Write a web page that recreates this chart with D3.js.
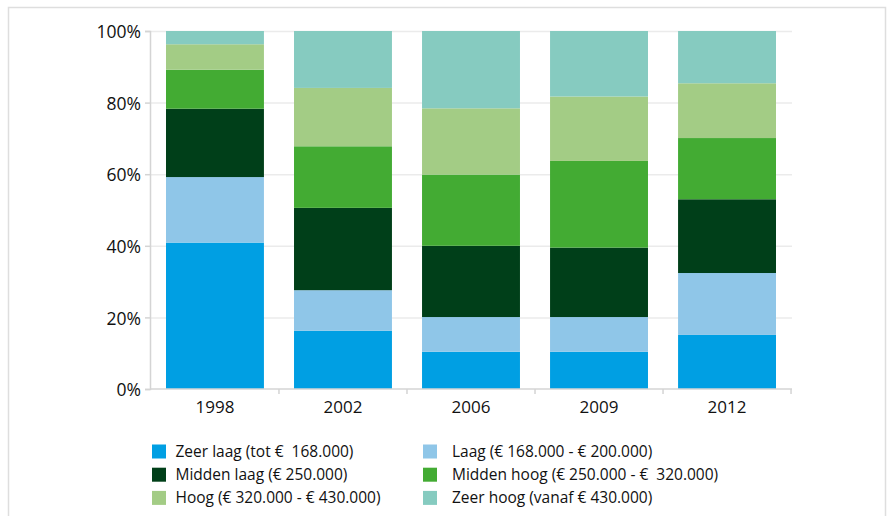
<!DOCTYPE html>
<html>
<head>
<meta charset="utf-8">
<script src="https://cdn.jsdelivr.net/npm/d3@7"></script>
<style>
  body { margin: 0; background: #fff; }
  svg text { font-family: "Open Sans", Lato, sans-serif; fill: #111; white-space: pre; }
</style>
</head>
<body>
<div id="chart"></div>
<script>
const years = ["1998", "2002", "2006", "2009", "2012"];
const seriesNames = [
    "Zeer laag (tot €  168.000)",
    "Laag (€ 168.000 - € 200.000)",
    "Midden laag (€ 250.000)",
    "Midden hoog (€ 250.000 - €  320.000)",
    "Hoog (€ 320.000 - € 430.000)",
    "Zeer hoog (vanaf € 430.000)"
];
const zeerLaag   = [40.9, 16.3, 10.4, 10.4, 15.1];
const laag       = [18.3, 11.3,  9.7,  9.7, 17.3];
const middenLaag = [19.1, 23.0, 19.9, 19.4, 20.6];
const middenHoog = [10.9, 17.2, 19.9, 24.2, 17.1];
const hoog       = [ 7.1, 16.3, 18.5, 18.0, 15.3];
const zeerHoog   = [ 3.7, 15.9, 21.6, 18.3, 14.6];
const yTicks = [0, 20, 40, 60, 80, 100];
const colors = ["#009fe3", "#8fc6e8", "#003f19", "#43ab33", "#a3cc85", "#86cbc0"];

const width = 888, height = 516;
const margin = {top: 31, right: 96, bottom: 127, left: 150};

const svg = d3.select("#chart").append("svg")
    .attr("width", width)
    .attr("height", height);

// outer frame
svg.append("path")
    .attr("d", `M8.5,${height} V7.5 H885.5 V${height}`)
    .attr("fill", "none")
    .attr("stroke", "#dedede")
    .attr("stroke-width", 1.5);

const allSeries = [zeerLaag, laag, middenLaag, middenHoog, hoog, zeerHoog];
const keys = seriesNames.map((n, i) => "s" + i);
const table = years.map((y, j) => {
    const row = {year: y};
    allSeries.forEach((s, i) => { row[keys[i]] = s[j]; });
    return row;
});
const stacked = d3.stack().keys(keys)
    .offset(d3.stackOffsetExpand)(table);

const x = d3.scaleBand()
    .domain(years)
    .range([margin.left, width - margin.right])
    .paddingInner(0.235)
    .paddingOuter(0.125);

const y = d3.scaleLinear()
    .domain([0, 1])
    .range([height - margin.bottom, margin.top]);

// gridlines
svg.append("g")
    .selectAll("line")
    .data(yTicks.slice(1))
    .enter().append("line")
    .attr("x1", margin.left)
    .attr("x2", width - margin.right)
    .attr("y1", d => y(d / 100) + 0.5)
    .attr("y2", d => y(d / 100) + 0.5)
    .attr("stroke", "#ebebeb")
    .attr("stroke-width", 1.5);

svg.append("g")
    .selectAll("g")
    .data(stacked)
    .enter().append("g")
    .attr("fill", (d, i) => colors[i])
    .selectAll("rect")
    .data(d => d)
    .enter().append("rect")
    .attr("x", d => x(d.data.year))
    .attr("y", d => y(d[1]))
    .attr("height", d => y(d[0]) - y(d[1]))
    .attr("width", x.bandwidth());

// y axis
const yAxis = d3.axisLeft(y)
    .tickValues(yTicks.map(t => t / 100))
    .tickFormat(d => Math.round(d * 100) + "%")
    .tickSize(5)
    .tickPadding(4);

const yG = svg.append("g")
    .attr("transform", `translate(${margin.left},0)`)
    .call(yAxis);
yG.selectAll("path, line").attr("stroke", "#d4d4d4").attr("stroke-width", 1.5);
yG.selectAll("text").style("font-size", "17.5px").attr("dy", "0.38em").attr("fill", "#111");

// x axis
const xAxisG = svg.append("g")
    .attr("transform", `translate(0,${height - margin.bottom})`);
xAxisG.append("line")
    .attr("x1", margin.left)
    .attr("x2", width - margin.right)
    .attr("stroke", "#d4d4d4")
    .attr("stroke-width", 1.5);
xAxisG.selectAll(".tk")
    .data(years)
    .enter().append("line")
    .attr("x1", d => x(d) - x.step() * x.paddingInner() / 2 + x.step())
    .attr("x2", d => x(d) - x.step() * x.paddingInner() / 2 + x.step())
    .attr("y1", 0)
    .attr("y2", 5)
    .attr("stroke", "#d4d4d4")
    .attr("stroke-width", 1.5);
xAxisG.selectAll("text")
    .data(years)
    .enter().append("text")
    .attr("x", d => x(d) + x.bandwidth() / 2)
    .attr("y", 24)
    .attr("text-anchor", "middle")
    .style("font-size", "17px")
    .text(d => d);

// legend
const legend = svg.append("g");
const legendItems = legend.selectAll("g")
    .data(seriesNames)
    .enter().append("g")
    .attr("transform", (d, i) => `translate(${i % 2 === 0 ? 152 : 423},${451.5 + Math.floor(i / 2) * 23.2})`);
legendItems.append("rect")
    .attr("x", 0)
    .attr("y", -7)
    .attr("width", 14)
    .attr("height", 14)
    .attr("fill", (d, i) => colors[i]);
legendItems.append("text")
    .attr("x", (d, i) => i % 2 === 0 ? 23.5 : 29)
    .attr("y", 5.5)
    .style("font-size", "15.5px")
    .text(d => d);
</script>
</body>
</html>
